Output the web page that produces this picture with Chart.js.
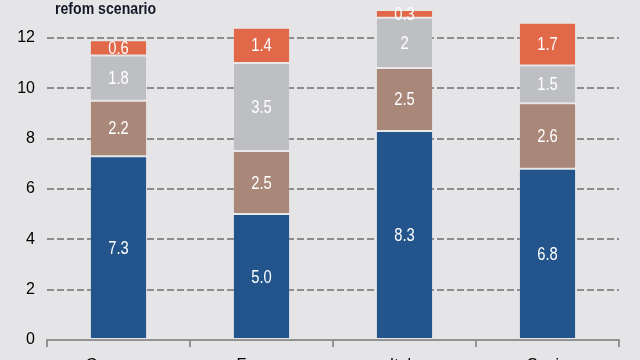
<!DOCTYPE html>
<html>
<head>
<meta charset="utf-8">
<script src="https://cdn.jsdelivr.net/npm/chart.js@4.4.0/dist/chart.umd.min.js"></script>
<style>
html,body{margin:0;padding:0;width:640px;height:360px;overflow:hidden;background:#E5E5E7;}
#wrap{position:relative;width:640px;height:384px;}
</style>
</head>
<body>
<div id="wrap"><canvas id="c" width="640" height="384"></canvas></div>
<script>
const categories = ["Germany", "France", "Italy", "Spain"];
const seriesA = [7.3, 5.0, 8.3, 6.8];
const seriesB = [2.2, 2.5, 2.5, 2.6];
const seriesC = [1.8, 3.5, 2.0, 1.5];
const seriesD = [0.6, 1.4, 0.3, 1.7];
const labelsA = ["7.3", "5.0", "8.3", "6.8"];
const labelsB = ["2.2", "2.5", "2.5", "2.6"];
const labelsC = ["1.8", "3.5", "2", "1.5"];
const labelsD = ["0.6", "1.4", "0.3", "1.7"];
const yTicks = [0, 2, 4, 6, 8, 10, 12];
const titleText = "refom scenario";

const FONT = "'Liberation Sans', Arial, sans-serif";

function narrowText(ctx, text, x, y, sx) {
  ctx.save();
  ctx.translate(x, y);
  ctx.scale(sx, 1);
  ctx.fillText(text, 0, 0);
  ctx.restore();
}

const valueLabels = {
  id: 'valueLabels',
  afterDatasetsDraw(chart) {
    const ctx = chart.ctx;
    ctx.save();
    ctx.fillStyle = '#ffffff';
    ctx.font = '18px ' + FONT;
    ctx.textAlign = 'center';
    ctx.textBaseline = 'middle';
    chart.data.datasets.forEach((ds, di) => {
      const meta = chart.getDatasetMeta(di);
      meta.data.forEach((el, i) => {
        const p = el.getProps(['x', 'y', 'base'], true);
        narrowText(ctx, ds.labelsText[i], p.x, (p.y + p.base) / 2 + 1, 0.82);
      });
    });
    ctx.restore();
  }
};

const titlePlugin = {
  id: 'titlePlugin',
  afterDraw(chart) {
    const ctx = chart.ctx;
    ctx.save();
    ctx.fillStyle = '#141826';
    ctx.font = 'bold 17px ' + FONT;
    ctx.textAlign = 'left';
    ctx.textBaseline = 'alphabetic';
    narrowText(ctx, titleText, 55, 14, 0.83);
    ctx.restore();
  }
};

const border = 'rgba(255,255,255,0.15)';
new Chart(document.getElementById('c'), {
  type: 'bar',
  data: {
    labels: categories,
    datasets: [
      { data: seriesA, labelsText: labelsA, backgroundColor: '#23548B', borderColor: border, borderWidth: 1, borderSkipped: false },
      { data: seriesB, labelsText: labelsB, backgroundColor: '#A98779', borderColor: border, borderWidth: 1, borderSkipped: false },
      { data: seriesC, labelsText: labelsC, backgroundColor: '#BEBFC3', borderColor: border, borderWidth: 1, borderSkipped: false },
      { data: seriesD, labelsText: labelsD, backgroundColor: '#E2684A', borderColor: border, borderWidth: 1, borderSkipped: false }
    ]
  },
  options: {
    responsive: false,
    animation: false,
    events: [],
    layout: { padding: { left: 0, right: 21, top: 0, bottom: 0 } },
    plugins: { legend: { display: false }, tooltip: { enabled: false }, title: { display: false } },
    datasets: { bar: { barPercentage: 0.4, categoryPercentage: 1.0, clip: false } },
    scales: {
      x: {
        stacked: true,
        border: { display: true, color: '#939393', width: 2 },
        grid: { drawOnChartArea: false, drawTicks: true, tickLength: 7, color: '#939393', lineWidth: 2, offset: true },
        ticks: { color: '#000', font: { family: FONT, size: 16 }, padding: 9, maxRotation: 0 },
        afterFit(s) { s.height = 44; s.paddingLeft = 0; s.paddingRight = 0; }
      },
      y: {
        stacked: true,
        min: 0,
        max: 13.5,
        afterBuildTicks(s) { s.ticks = yTicks.map(v => ({ value: v })); },
        border: { display: false, dash: [7, 3] },
        grid: {
          drawTicks: false,
          color: (c) => c.tick && c.tick.value === 0 ? 'rgba(0,0,0,0)' : '#8c8c8c',
          lineWidth: 2
        },
        ticks: { color: '#000', font: { family: FONT, size: 16 }, padding: 12 },
        afterFit(s) { s.width = 47; s.paddingTop = 0; s.paddingBottom = 0; }
      }
    }
  },
  plugins: [valueLabels, titlePlugin]
});
</script>
</body>
</html>
